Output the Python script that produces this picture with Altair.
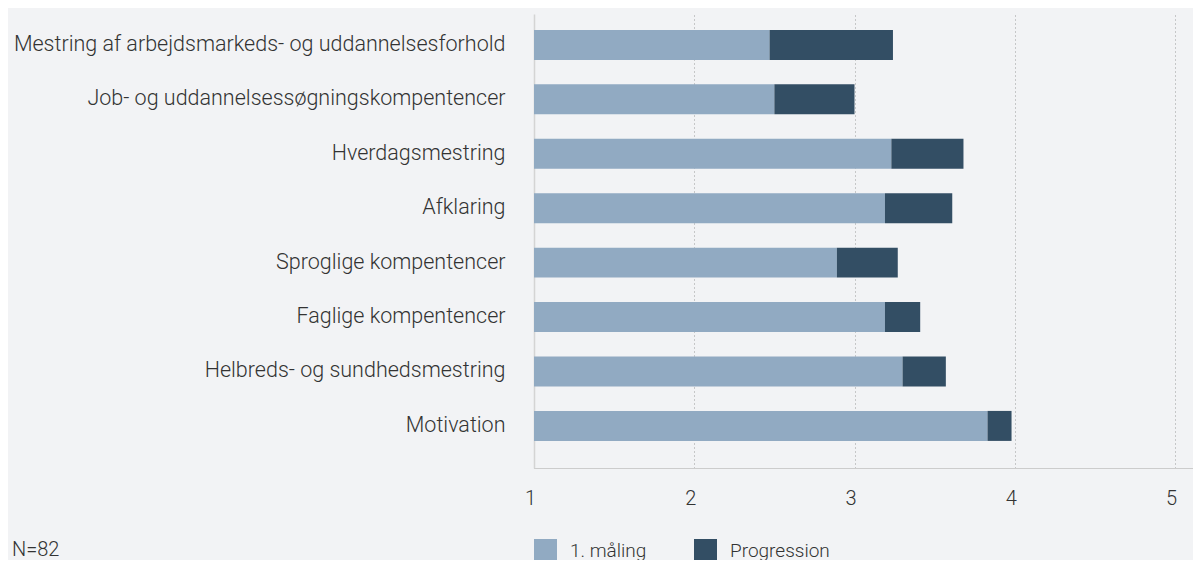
import altair as alt
import pandas as pd

categories = [
    "Mestring af arbejdsmarkeds- og uddannelsesforhold",
    "Job- og uddannelsessøgningskompentencer",
    "Hverdagsmestring",
    "Afklaring",
    "Sproglige kompentencer",
    "Faglige kompentencer",
    "Helbreds- og sundhedsmestring",
    "Motivation",
]
first_measure = [2.47, 2.50, 3.23, 3.19, 2.89, 3.19, 3.30, 3.83]
total_after = [3.24, 3.00, 3.68, 3.61, 3.27, 3.41, 3.57, 3.98]
series = ["1. måling", "Progression"]
colors = ["#91aac2", "#334e64"]
x_ticks = [1, 2, 3, 4, 5]
note = "N=82"

rows = []
for c, a, b in zip(categories, first_measure, total_after):
    rows.append({"kategori": c, "serie": series[0], "start": 1.0, "slut": a})
    rows.append({"kategori": c, "serie": series[1], "start": a, "slut": b})
df = pd.DataFrame(rows)

FONT = "Roboto"
W = 659
H = 454
xmax = 1 + W / 160.25

bars = alt.Chart(df).mark_bar().encode(
    y=alt.Y(
        "kategori:N",
        sort=categories,
        scale=alt.Scale(paddingInner=0.449, paddingOuter=0.395, align=0.37),
        axis=alt.Axis(
            title=None, ticks=False, domain=True, domainColor="#d4d4d4",
            domainWidth=1.5, labelFontSize=21.5, labelColor="#333333",
            labelFont=FONT, labelFontWeight=300, labelPadding=29, labelLimit=0,
            grid=False,
        ),
    ),
    x=alt.X(
        "start:Q",
        scale=alt.Scale(domain=[1, xmax], nice=False, zero=False),
        axis=alt.Axis(
            title=None, values=x_ticks, format="d", ticks=False,
            domain=True, domainColor="#cccccc", domainWidth=1,
            grid=True, gridColor="#9a9a9a", gridDash=[1, 3], gridWidth=1,
            labelFontSize=20, labelColor="#333333", labelFont=FONT,
            labelFontWeight=300, labelPadding=20, labelAlign="center",
            labelOffset=-4, labelFlush=False,
        ),
    ),
    x2="slut:Q",
    color=alt.Color(
        "serie:N",
        scale=alt.Scale(domain=series, range=colors),
        legend=alt.Legend(
            title=None, orient="none", legendX=0, legendY=525,
            direction="horizontal", symbolType="square", symbolSize=529,
            symbolStrokeWidth=0, labelFontSize=19, labelFont=FONT,
            labelFontWeight=300, labelColor="#333333", labelOffset=13,
            columnPadding=47,
        ),
    ),
)

note_df = pd.DataFrame({"t": [note]})
note_text = alt.Chart(note_df).mark_text(
    align="left", baseline="middle", fontSize=20, font=FONT,
    fontWeight=300, color="#333333",
).encode(text="t:N", x=alt.value(-522), y=alt.value(536))

chart = alt.layer(bars, note_text).properties(
    width=W, height=H,
    autosize=alt.AutoSizeParams(type="none"),
    padding={"left": 526, "top": 6, "right": 0, "bottom": 92},
    background="#f2f3f5",
).configure_view(stroke=None)

chart.save("out.html", embed_options={"renderer": "svg", "actions": False})
